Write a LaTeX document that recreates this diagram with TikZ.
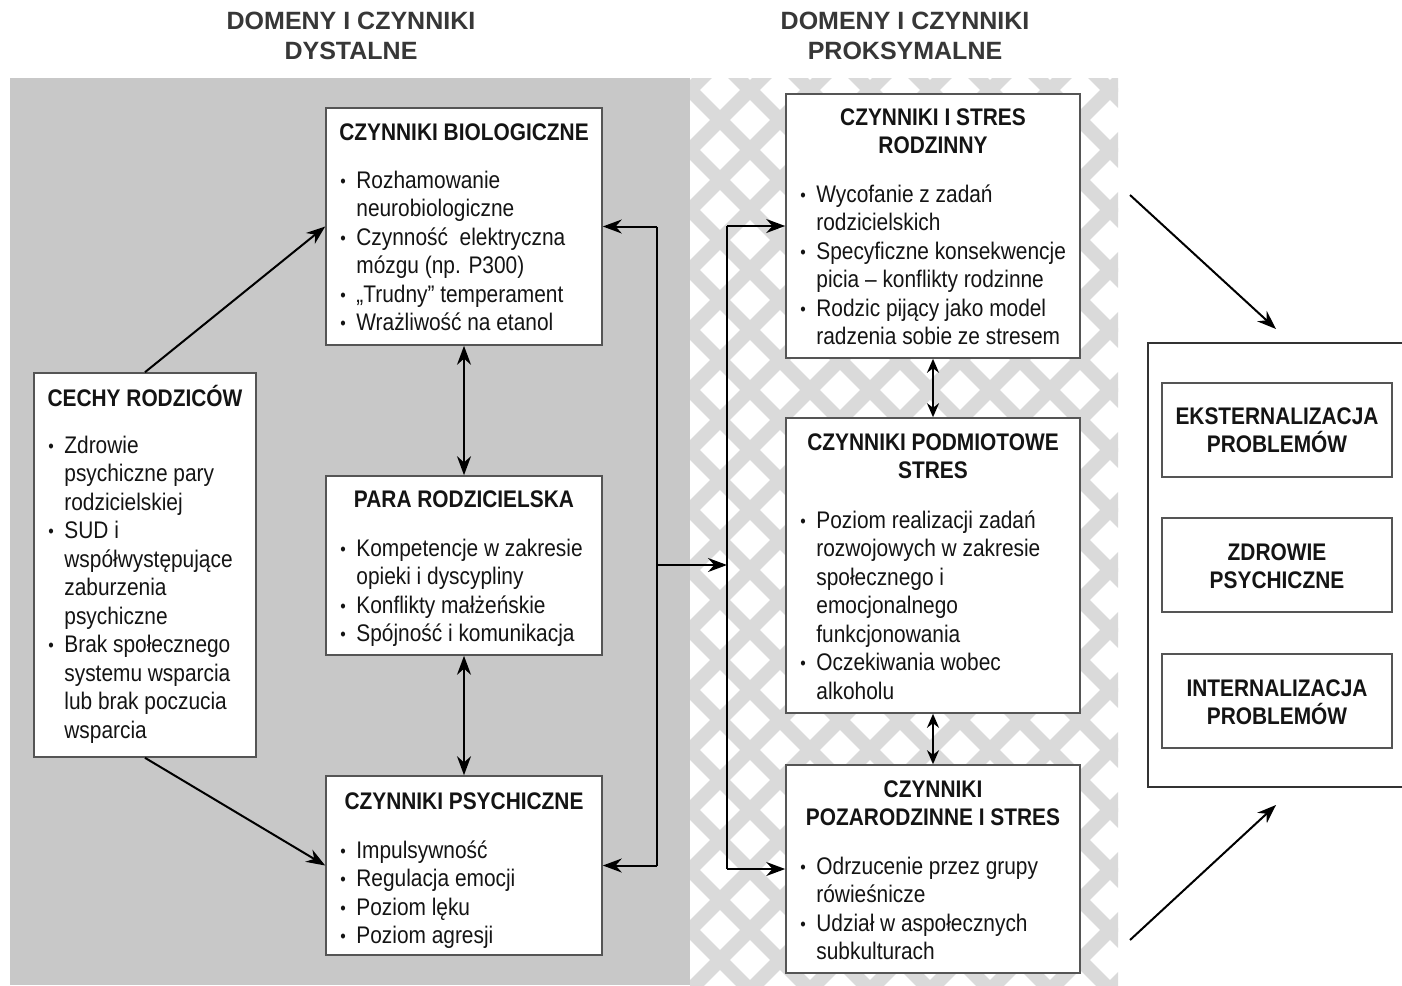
\documentclass[tikz,border=0pt]{standalone}
\usepackage{fontspec}
\setmainfont[FakeStretch=0.87]{Liberation Sans}
\newfontfamily\headfont{Liberation Sans}
\usetikzlibrary{arrows.meta,fit}
\definecolor{panelgray}{RGB}{200,200,200}
\definecolor{hatchgray}{RGB}{218,218,218}
\definecolor{boxline}{RGB}{85,85,85}
\definecolor{ink}{RGB}{20,20,20}
\newcommand{\bu}{\makebox[8pt][l]{\raisebox{0.6pt}{\fontsize{9}{9}\selectfont\textbullet}}}
\newcommand{\ind}{\hspace*{8pt}}
\begin{document}
\begin{tikzpicture}[x=0.5pt,y=-0.5pt,
  box/.style={draw=boxline, line width=0.8pt, fill=white, inner sep=0pt},
  txt/.style={inner sep=0pt, align=left, anchor=north west, text=ink, font=\fontsize{12}{14.25}\selectfont},
  ttl/.style={inner sep=0pt, align=center, anchor=north, text=ink, font=\fontsize{12}{14.25}\selectfont\bfseries},
  head/.style={inner sep=0pt, align=center, anchor=north, text=ink!85, font=\headfont\fontsize{12.5}{15}\selectfont\bfseries},
  hatch/.style={draw=hatchgray, line width=7pt},
  arr/.style={-{Stealth[length=9.5pt,width=7pt]}, line width=1pt, draw=black},
  dbl/.style={{Stealth[length=9.5pt,width=7pt]}-{Stealth[length=9.5pt,width=7pt]}, line width=1pt, draw=black},
  sdbl/.style={{Stealth[length=7pt,width=6pt]}-{Stealth[length=7pt,width=6pt]}, line width=1pt, draw=black},
  line/.style={line width=1pt, draw=black}]
\useasboundingbox (0,0) rectangle (1402,985);
\clip (0,0) rectangle (1402,985);
\fill[white] (0,0) rectangle (1402,985);

% panels
\fill[panelgray] (10,78) rectangle (690,985);
\begin{scope}
  \clip (690,78) rectangle (1118,985);
  \fill[white] (690,78) rectangle (1118,985);
  \foreach \k in {-420,-360,...,1320} \draw[hatch] (\k,0) -- ++(1100,1100);
  \foreach \k in {600,660,...,2340} \draw[hatch] (\k,0) -- ++(-1100,1100);
\end{scope}

% headers
\node[head] (h1) at (351,8) {\strut DOMENY I CZYNNIKI\\DYSTALNE};
\node[head] (h2) at (905,8) {\strut DOMENY I CZYNNIKI\\PROKSYMALNE};

% boxes
\node[box, fit={(34,373) (256,757)}] (cechy) {};
\node[box, fit={(326,108) (602,345)}] (bio) {};
\node[box, fit={(326,476) (602,655)}] (para) {};
\node[box, fit={(326,776) (602,955)}] (psych) {};
\node[box, fit={(786,94) (1080,358)}] (rodz) {};
\node[box, fit={(786,418) (1080,713)}] (podm) {};
\node[box, fit={(786,765) (1080,973)}] (poza) {};
\node[box, draw=black!80, fit={(1148,343) (1420,787)}] (outc) {};
\node[box, fit={(1162,383) (1392,477)}] (ext) {};
\node[box, fit={(1162,518) (1392,612)}] (zdr) {};
\node[box, fit={(1162,654) (1392,748)}] (intl) {};

% outcome texts
\node[ttl] (t-ext) at (1277,404) {\strut EKSTERNALIZACJA\\PROBLEM\smash{Ó}W};
\node[ttl] (t-zdr) at (1277,540) {\strut ZDROWIE\\PSYCHICZNE};
\node[ttl] (t-intl) at (1277,676) {\strut INTERNALIZACJA\\PROBLEM\smash{Ó}W};

% titles
\node[ttl] (t-cechy) at (145,385) {\strut CECHY RODZICÓW};
\node[ttl] (t-bio) at (464,120) {\strut CZYNNIKI BIOLOGICZNE};
\node[ttl] (t-para) at (464,487) {\strut PARA RODZICIELSKA};
\node[ttl] (t-psych) at (464,789) {\strut CZYNNIKI PSYCHICZNE};
\node[ttl] (t-rodz) at (933,105) {\strut CZYNNIKI I STRES\\RODZINNY};
\node[ttl] (t-podm) at (933,430) {\strut CZYNNIKI PODMIOTOWE\\STRES};
\node[ttl] (t-poza) at (933,777) {\strut CZYNNIKI\\POZARODZINNE I STRES};

% bullet lists
\node[txt] (l-cechy) at (48,433) {\strut\bu Zdrowie\\\ind psychiczne pary\\\ind rodzicielskiej\\\bu SUD i\\\ind współwystępujące\\\ind zaburzenia\\\ind psychiczne\\\bu Brak społecznego\\\ind systemu wsparcia\\\ind lub brak poczucia\\\ind wsparcia};
\node[txt] (l-bio) at (340,168) {\strut\bu Rozhamowanie\\\ind neurobiologiczne\\\bu Czynność\ \ elektryczna\\\ind mózgu (np. P300)\\\bu „Trudny” temperament\\\bu Wrażliwość na etanol};
\node[txt] (l-para) at (340,536) {\strut\bu Kompetencje w zakresie\\\ind opieki i dyscypliny\\\bu Konflikty małżeńskie\\\bu Spójność i komunikacja};
\node[txt] (l-psych) at (340,838) {\strut\bu Impulsywność\\\bu Regulacja emocji\\\bu Poziom lęku\\\bu Poziom agresji};
\node[txt] (l-rodz) at (800,182) {\strut\bu Wycofanie z zadań\\\ind rodzicielskich\\\bu Specyficzne konsekwencje\\\ind picia – konflikty rodzinne\\\bu Rodzic pijący jako model\\\ind radzenia sobie ze stresem};
\node[txt] (l-podm) at (800,508) {\strut\bu Poziom realizacji zadań\\\ind rozwojowych w zakresie\\\ind społecznego i\\\ind emocjonalnego\\\ind funkcjonowania\\\bu Oczekiwania wobec\\\ind alkoholu};
\node[txt] (l-poza) at (800,854) {\strut\bu Odrzucenie przez grupy\\\ind rówieśnicze\\\bu Udział w aspołecznych\\\ind subkulturach};

% connectors, left panel
\draw[arr] (cechy.north) -- (bio.west);
\draw[arr] (cechy.south) -- (psych.west);
\draw[dbl] (bio.south) -- (para.north);
\draw[dbl] (para.south) -- (psych.north);

\coordinate (lt) at (657,226.5);
\coordinate (lb) at (657,865.5);
\coordinate (lm) at (657,565);
\coordinate (rm) at (727,565);
\coordinate (rt) at (727,226);
\coordinate (rb) at (727,869);
\draw[line] (lt) -- (lb);
\draw[arr] (lt) -- (bio.east);
\draw[arr] (lb) -- (psych.east);
\draw[arr] (lm) -- (rm);
\draw[line] (rt) -- (rb);
\draw[arr] (rt) -- (rodz.west);
\draw[arr] (rb) -- (poza.west);

% right column
\draw[sdbl] (rodz.south) -- (podm.north);
\draw[sdbl] (podm.south) -- (poza.north);

\coordinate (d1a) at (1130,195);
\coordinate (d1b) at (1276,329);
\coordinate (d2a) at (1130,940);
\coordinate (d2b) at (1276,805);
\draw[arr] (d1a) -- (d1b);
\draw[arr] (d2a) -- (d2b);
\end{tikzpicture}
\end{document}
